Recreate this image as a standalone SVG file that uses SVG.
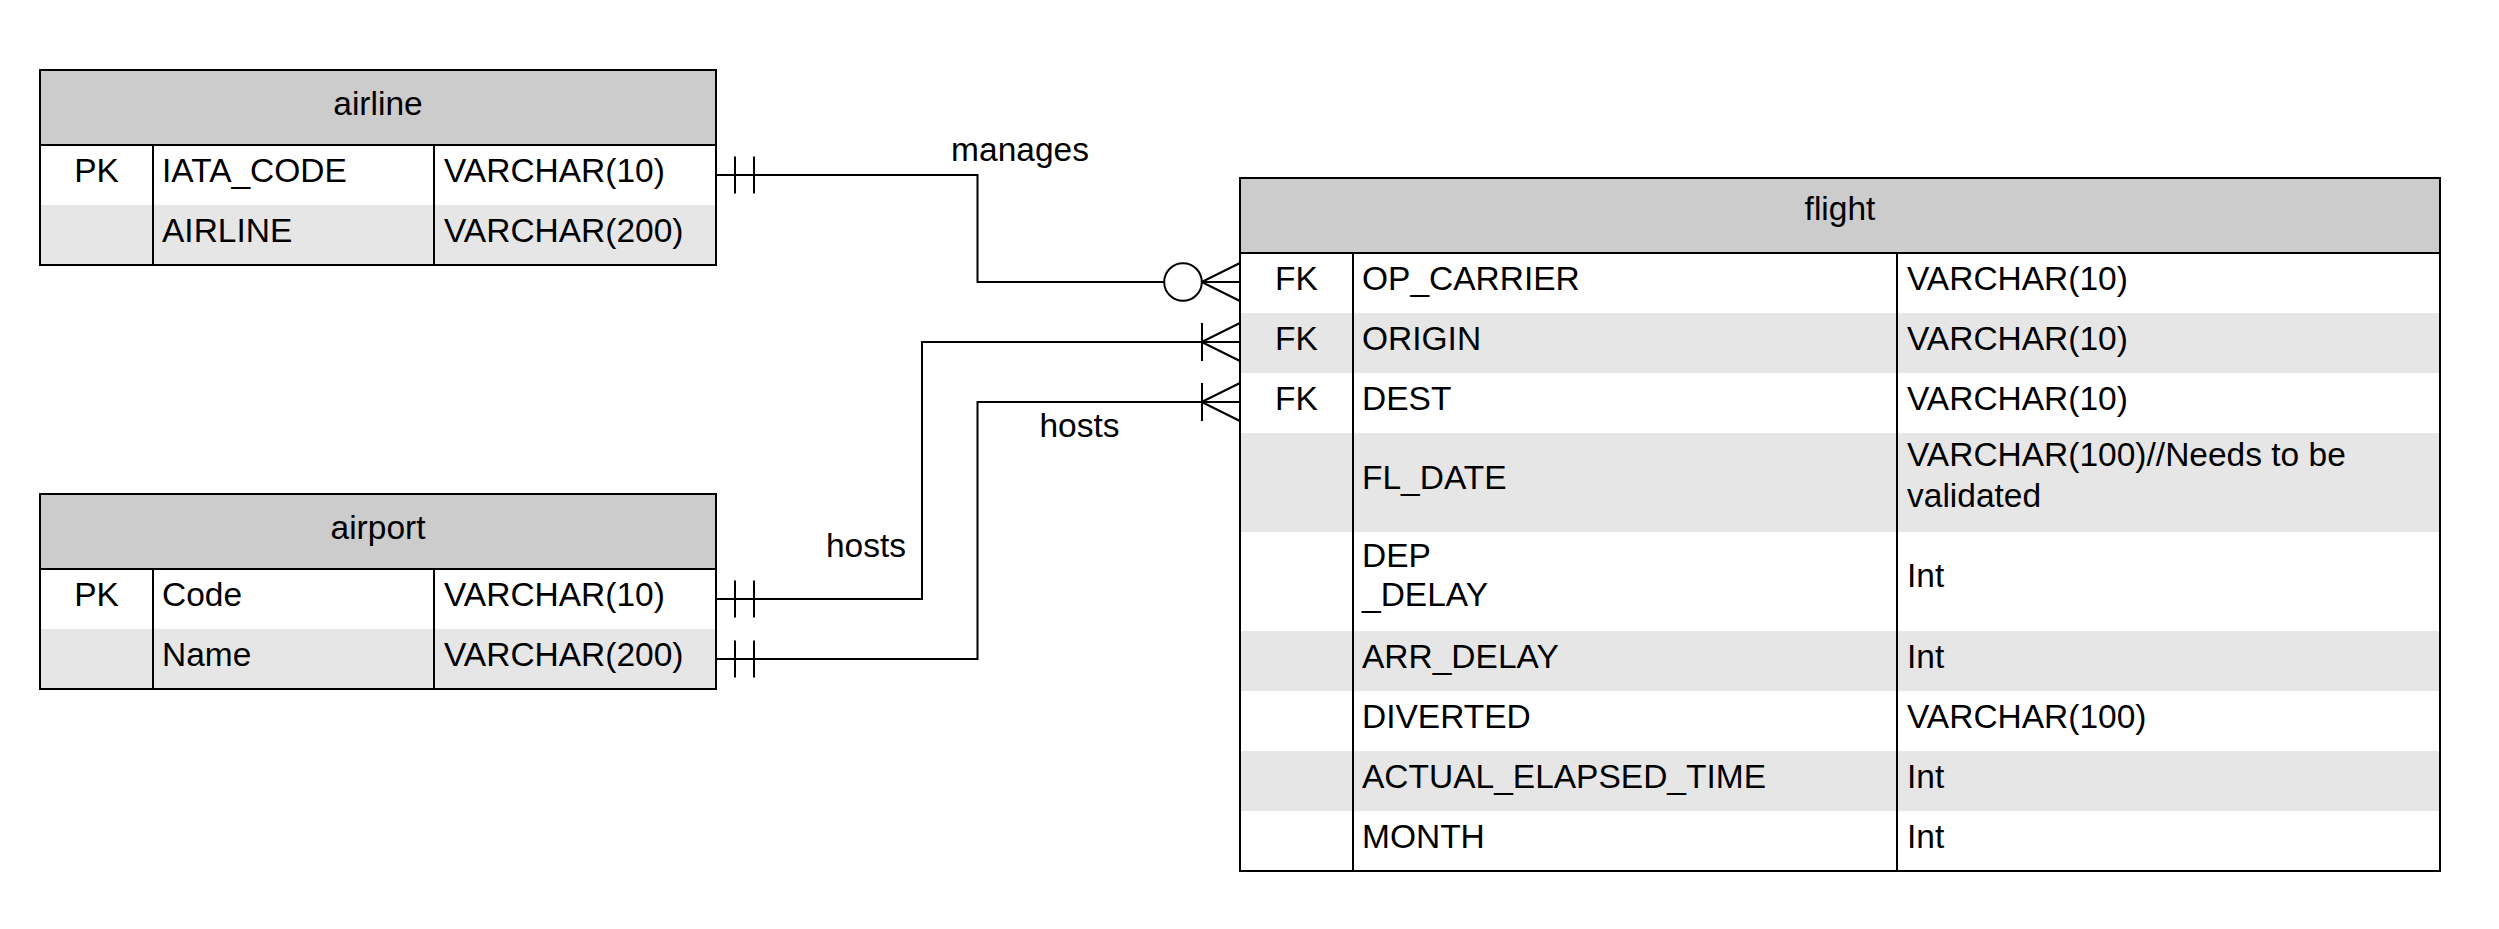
<svg xmlns="http://www.w3.org/2000/svg" xmlns:xlink="http://www.w3.org/1999/xlink" width="2499" height="929" viewBox="0 0 2499 929">
<style>
text{font-family:"Liberation Sans",Arial,sans-serif;font-size:33.5px;fill:#000}
.c{text-anchor:middle}
.hdr{fill:#CCCCCC}
.alt{fill:#E6E6E6}
.wht{fill:#FFFFFF}
.ln{stroke:#000;stroke-width:2;fill:none}
.conn path,.conn line{stroke:#000;stroke-width:2;fill:none}
.conn circle{stroke:#000;stroke-width:2;fill:#fff}
</style>
<defs>
<g id="mandOne" stroke="#000" stroke-width="2" fill="none"><line x1="19" y1="-18.5" x2="19" y2="18.5"/><line x1="38" y1="-18.5" x2="38" y2="18.5"/></g>
<g id="crow" stroke="#000" stroke-width="2" fill="none"><path d="M-38.3 0 L0 -19 M-38.3 0 L0 19 M-38.3 0 H0"/></g>
<g id="oneMany" stroke="#000" stroke-width="2" fill="none"><line x1="-38" y1="-19" x2="-38" y2="19"/></g>
</defs>
<rect width="2499" height="929" fill="#fff"/>

<g id="airline">
<rect class="wht" x="40" y="70" width="676" height="195"/>
<rect class="hdr" x="40" y="70" width="676" height="75"/>
<rect class="alt" x="40" y="205" width="676" height="60"/>
<rect class="ln" x="40" y="70" width="676" height="195"/>
<line class="ln" x1="40" y1="145" x2="716" y2="145"/>
<line class="ln" x1="153" y1="145" x2="153" y2="265"/>
<line class="ln" x1="434" y1="145" x2="434" y2="265"/>
<text class="c" x="378" y="114.5">airline</text>
<text class="c" x="96.5" y="181.5">PK</text>
<text x="162" y="181.5">IATA_CODE</text>
<text x="444" y="181.5">VARCHAR(10)</text>
<text x="162" y="241.5">AIRLINE</text>
<text x="444" y="241.5">VARCHAR(200)</text>
</g>

<g id="airport">
<rect class="wht" x="40" y="494" width="676" height="195"/>
<rect class="hdr" x="40" y="494" width="676" height="75"/>
<rect class="alt" x="40" y="629" width="676" height="60"/>
<rect class="ln" x="40" y="494" width="676" height="195"/>
<line class="ln" x1="40" y1="569" x2="716" y2="569"/>
<line class="ln" x1="153" y1="569" x2="153" y2="689"/>
<line class="ln" x1="434" y1="569" x2="434" y2="689"/>
<text class="c" x="378" y="538.5">airport</text>
<text class="c" x="96.5" y="605.5">PK</text>
<text x="162" y="605.5">Code</text>
<text x="444" y="605.5">VARCHAR(10)</text>
<text x="162" y="665.5">Name</text>
<text x="444" y="665.5">VARCHAR(200)</text>
</g>

<g id="flight">
<rect class="wht" x="1240" y="178" width="1200" height="693"/>
<rect class="hdr" x="1240" y="178" width="1200" height="75"/>
<rect class="alt" x="1240" y="313" width="1200" height="60"/>
<rect class="alt" x="1240" y="433" width="1200" height="99"/>
<rect class="alt" x="1240" y="631" width="1200" height="60"/>
<rect class="alt" x="1240" y="751" width="1200" height="60"/>
<rect class="ln" x="1240" y="178" width="1200" height="693"/>
<line class="ln" x1="1240" y1="253" x2="2440" y2="253"/>
<line class="ln" x1="1353" y1="253" x2="1353" y2="871"/>
<line class="ln" x1="1897" y1="253" x2="1897" y2="871"/>
<text class="c" x="1840" y="220">flight</text>
<text class="c" x="1296.5" y="289.5">FK</text>
<text x="1362" y="289.5">OP_CARRIER</text>
<text x="1907" y="289.5">VARCHAR(10)</text>
<text class="c" x="1296.5" y="349.5">FK</text>
<text x="1362" y="349.5">ORIGIN</text>
<text x="1907" y="349.5">VARCHAR(10)</text>
<text class="c" x="1296.5" y="409.5">FK</text>
<text x="1362" y="409.5">DEST</text>
<text x="1907" y="409.5">VARCHAR(10)</text>
<text x="1362" y="489">FL_DATE</text>
<text x="1907" y="466">VARCHAR(100)//Needs to be</text>
<text x="1907" y="507">validated</text>
<text x="1362" y="567">DEP</text>
<text x="1362" y="606">_DELAY</text>
<text x="1907" y="587">Int</text>
<text x="1362" y="667.5">ARR_DELAY</text>
<text x="1907" y="667.5">Int</text>
<text x="1362" y="727.5">DIVERTED</text>
<text x="1907" y="727.5">VARCHAR(100)</text>
<text x="1362" y="787.5">ACTUAL_ELAPSED_TIME</text>
<text x="1907" y="787.5">Int</text>
<text x="1362" y="847.5">MONTH</text>
<text x="1907" y="847.5">Int</text>
</g>

<g id="connectors" class="conn">
<g id="manages">
<path d="M716 175 H977.5 V282 H1164.2"/>
<use xlink:href="#mandOne" x="716" y="175"/>
<circle cx="1183" cy="282" r="18.8"/>
<use xlink:href="#crow" x="1240" y="282"/>
</g>
<g id="hosts-origin">
<path d="M716 599 H922 V342 H1240"/>
<use xlink:href="#mandOne" x="716" y="599"/>
<use xlink:href="#crow" x="1240" y="342"/>
<use xlink:href="#oneMany" x="1240" y="342"/>
</g>
<g id="hosts-dest">
<path d="M716 659 H977.5 V402 H1240"/>
<use xlink:href="#mandOne" x="716" y="659"/>
<use xlink:href="#crow" x="1240" y="402"/>
<use xlink:href="#oneMany" x="1240" y="402"/>
</g>
<text class="c" x="1020" y="160.5">manages</text>
<text class="c" x="866" y="556.5">hosts</text>
<text class="c" x="1079.5" y="436.5">hosts</text>
</g>
</svg>
